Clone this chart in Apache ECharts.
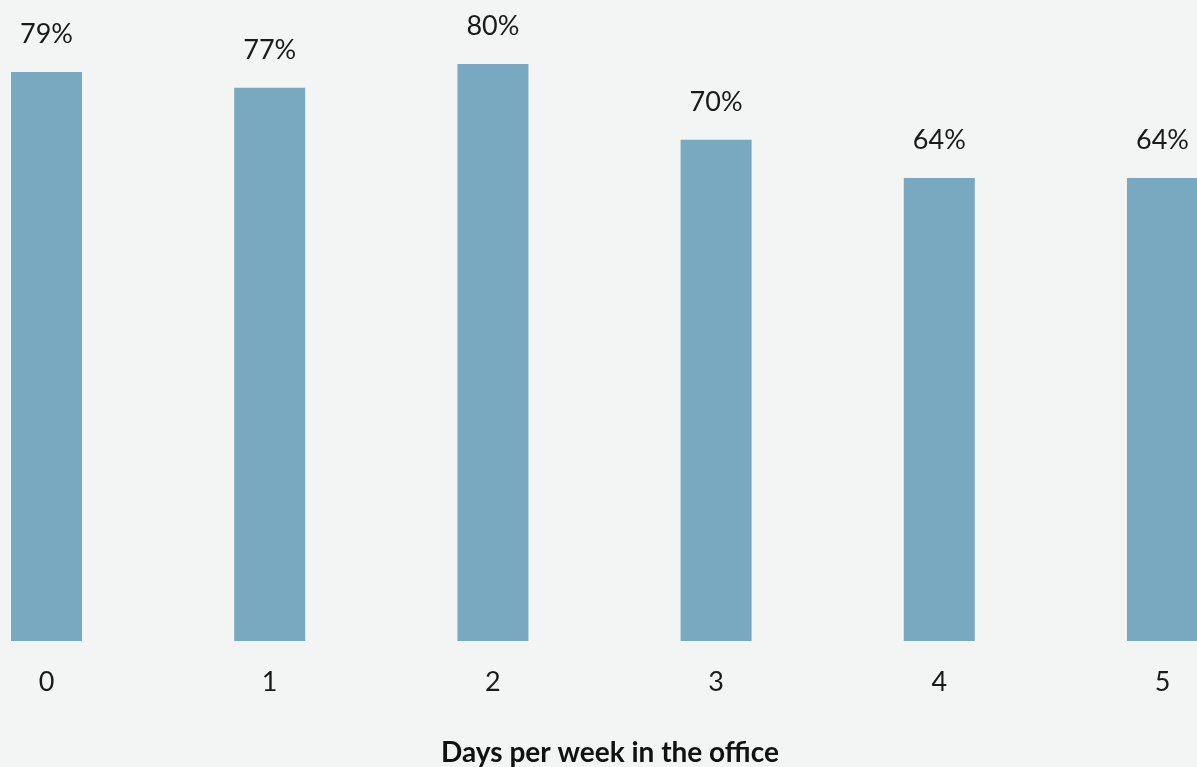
<!DOCTYPE html>
<html>
<head>
<meta charset="utf-8">
<script src="https://cdn.jsdelivr.net/npm/echarts@6/dist/echarts.min.js"></script>
<style>
html,body{margin:0;padding:0;background:#f3f4f4;overflow:hidden;}
#chart{width:1197px;height:767px;}
</style>
</head>
<body>
<div id="chart"></div>
<script>
const categories = ['0', '1', '2', '3', '4', '5'];
const values = [78.9, 76.7, 80, 69.5, 64.2, 64.2];
const axisTitle = 'Days per week in the office';

const chart = echarts.init(document.getElementById('chart'));
chart.setOption({
  backgroundColor: '#f3f4f4',
  animation: false,
  grid: { left: 46.5, right: 34.5, top: 64, bottom: 126, containLabel: false, outerBoundsMode: 'none' },
  xAxis: {
    type: 'category',
    data: categories,
    boundaryGap: false,
    axisLine: { show: false },
    axisTick: { show: false },
    axisLabel: { color: '#1a1a1a', fontSize: 27, fontFamily: 'Lato', margin: 28 },
    name: axisTitle,
    nameLocation: 'middle',
    nameGap: 98,
    nameTextStyle: { color: '#111', fontSize: 28, fontWeight: 'bold', fontFamily: 'Lato', padding: [0, 0, 0, 11] }
  },
  yAxis: {
    type: 'value', min: 0, max: 80, show: false,
    splitLine: { show: false }
  },
  series: [{
    type: 'bar',
    data: values,
    barWidth: 71,
    clip: false,
    itemStyle: { color: '#78a9c0' },
    label: {
      show: true, position: 'top', distance: 24,
      color: '#1a1a1a', fontSize: 27, fontFamily: 'Lato',
      formatter: p => Math.round(p.value) + '%'
    }
  }]
});
</script>
</body>
</html>
